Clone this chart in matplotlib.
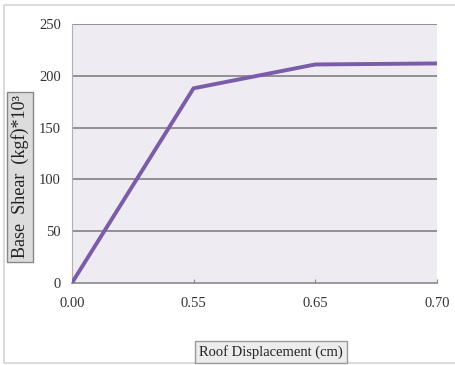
import matplotlib.pyplot as plt
from matplotlib.lines import Line2D

# roof displacement steps (categorical axis) and base shear readings
disp_labels = ['0.00', '0.55', '0.65', '0.70']
base_shear = [0, 188, 211, 212]
y_ticks = [0, 50, 100, 150, 200, 250]

plt.rcParams['font.family'] = ['Liberation Serif', 'DejaVu Serif']

fig = plt.figure(figsize=(4.55, 3.65), dpi=100)
ax = fig.add_axes([0.158, 0.2247, 0.802, 0.7093])

# light frame on the left, top and bottom of the chart
fx0, fx1 = 4 / 455, 1.0
fy0, fy1 = 2 / 365, 1 - 5 / 365
fig.lines.append(Line2D([fx1, fx0, fx0, fx1], [fy1, fy1, fy0, fy0],
                        transform=fig.transFigure, color='#d4d4d4', linewidth=1.2))

ax.set_facecolor('#eeebf2')
x = list(range(len(disp_labels)))
ax.plot(x, base_shear, color='#7b5ca8', linewidth=2.8, solid_joinstyle='round', zorder=3)

ax.set_xlim(0, len(disp_labels) - 1)
ax.set_ylim(0, 250)
ax.set_xticks(x)
ax.set_xticklabels(disp_labels)
ax.set_yticks(y_ticks)
ax.tick_params(axis='both', labelsize=10.5, colors='#333333')
ax.tick_params(axis='y', length=0, pad=8)
ax.tick_params(axis='x', length=3, direction='in', color='#888888', pad=10)

for v in y_ticks[1:]:
    ax.axhline(v, color='#8a8a8a', linewidth=1.3, zorder=1)

for side in ['top', 'right']:
    ax.spines[side].set_visible(False)
ax.spines['left'].set_color('#b0b0b0')
ax.spines['bottom'].set_color('#8a8a8a')
ax.spines['bottom'].set_linewidth(1.2)

fig.text(20 / 455, 1 - 177 / 365, 'Base  Shear  (kgf)*10\u00b3', rotation=90,
         ha='center', va='center', fontsize=13, color='#222222',
         bbox=dict(boxstyle='square,pad=0.2', facecolor='#dcdcdc', edgecolor='#888888', linewidth=1))
fig.text(271 / 455, 1 - 352 / 365, 'Roof Displacement (cm)',
         ha='center', va='center', fontsize=10.5, color='#222222',
         bbox=dict(boxstyle='square,pad=0.3', facecolor='#ececec', edgecolor='#999999', linewidth=1))

fig.savefig('out.png', dpi=100)
